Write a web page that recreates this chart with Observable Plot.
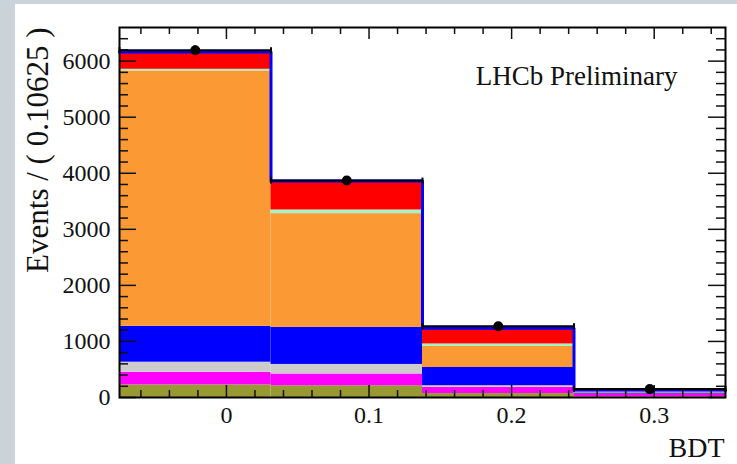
<!DOCTYPE html>
<html><head><meta charset="utf-8">
<script src="https://cdn.jsdelivr.net/npm/d3@7"></script>
<script src="https://cdn.jsdelivr.net/npm/@observablehq/plot@0.6"></script>
<style>
html,body{margin:0;padding:0;background:#c9d3d9;width:737px;height:464px;overflow:hidden;}
#panel{position:absolute;left:15px;top:4px;width:722px;height:460px;background:#fff;}
#chart{position:absolute;left:0;top:0;}
</style></head><body>
<div id="panel"></div><div id="chart"></div>
<script>
// ---- data ----
const binEdges = [-0.075, 0.03125, 0.1375, 0.24375, 0.35];
const components = ["comp A", "comp B", "comp C", "comp D", "comp E", "comp F", "comp G"];
const componentColors = ["#999933", "#ff00ff", "#cccccc", "#0000ff", "#fb9a35", "#a0f5c5", "#ff0000"];
const compA = [225, 210, 70, 10];    // olive
const compB = [225, 210, 110, 45];   // magenta
const compC = [180, 170, 30, 5];     // light grey
const compD = [640, 660, 325, 20];   // blue
const compE = [4555, 2030, 375, 25]; // orange
const compF = [30, 65, 45, 5];       // light green
const compG = [310, 515, 280, 25];   // red
const dataCounts = [6195, 3870, 1270, 150];
const xTickValues = [0, 0.1, 0.2, 0.3];
const xTickLabels = ["0", "0.1", "0.2", "0.3"];
const xMinorTicks = [-0.06, -0.04, -0.02, 0.02, 0.04, 0.06, 0.08, 0.12, 0.14, 0.16, 0.18, 0.22, 0.24, 0.26, 0.28, 0.32, 0.34];
const yTickValues = [0, 1000, 2000, 3000, 4000, 5000, 6000];
const yMinorTicks = [200, 400, 600, 800, 1200, 1400, 1600, 1800, 2200, 2400, 2600, 2800, 3200, 3400, 3600, 3800,
  4200, 4400, 4600, 4800, 5200, 5400, 5600, 5800, 6200, 6400];
const yLabel = "Events / ( 0.10625 )";
const xLabel = "BDT";
const lhcbLabel = "LHCb Preliminary";

// ---- tables built from the arrays ----
const seriesList = [compA, compB, compC, compD, compE, compF, compG];
const stackRows = [];
components.forEach((c, k) => seriesList[k].forEach((v, i) => stackRows.push({comp: c, x1: binEdges[i], x2: binEdges[i + 1], v})));
const totals = dataCounts.map((_, i) => seriesList.reduce((s, arr) => s + arr[i], 0));
const outline = totals.map((t, i) => ({x: binEdges[i], y: t})).concat([{x: binEdges[4], y: totals[3]}]);
const dataRows = dataCounts.map((n, i) => ({x1: binEdges[i], x2: binEdges[i + 1], xc: (binEdges[i] + binEdges[i + 1]) / 2, n, err: Math.sqrt(n)}));
const capRows = dataRows.flatMap(d => [{x: d.x1, y: d.n}, {x: d.x2, y: d.n}]);

const W = 737, H = 464, mL = 119, mR = 12, mT = 27, mB = 67;
const fw = W - mL - mR, fh = H - mT - mB;
const serif = "'Liberation Serif', 'Times New Roman', serif";
const vbar = {draw(ctx, size) { const h = Math.sqrt(size / Math.PI); ctx.moveTo(0, -h); ctx.lineTo(0, h); }};
const tickStyle = {stroke: "#111", strokeWidth: 1.5};

const chart = Plot.plot({
  width: W, height: H,
  marginLeft: mL, marginRight: mR, marginTop: mT, marginBottom: mB,
  x: {domain: [binEdges[0], binEdges[4]]},
  y: {domain: [0, 6600]},
  color: {type: "ordinal", domain: components, range: componentColors},
  style: {background: "transparent", fontFamily: serif, color: "#111"},
  marks: [
    Plot.rectY(stackRows, {x1: "x1", x2: "x2", y: "v", z: "comp", fill: "comp", order: components}),
    Plot.line(outline, {x: "x", y: "y", curve: "step-after", stroke: "#0000ff", strokeWidth: 3}),
    // inward ticks: bottom / top
    Plot.tickX(xTickValues, {x: d => d, insetTop: fh - 12, ...tickStyle}),
    Plot.tickX(xMinorTicks, {x: d => d, insetTop: fh - 7, ...tickStyle}),
    Plot.tickX(xTickValues, {x: d => d, insetBottom: fh - 12, ...tickStyle}),
    Plot.tickX(xMinorTicks, {x: d => d, insetBottom: fh - 7, ...tickStyle}),
    // inward ticks: left / right
    Plot.tickY(yTickValues, {y: d => d, insetRight: fw - 17, ...tickStyle}),
    Plot.tickY(yMinorTicks, {y: d => d, insetRight: fw - 9, ...tickStyle}),
    Plot.tickY(yTickValues, {y: d => d, insetLeft: fw - 17, ...tickStyle}),
    Plot.tickY(yMinorTicks, {y: d => d, insetLeft: fw - 9, ...tickStyle}),
    Plot.frame({stroke: "#000", strokeWidth: 2}),
    Plot.axisX({ticks: xTickValues, tickSize: 0, tickPadding: 8, fontSize: 24, label: null,
      tickFormat: d => xTickLabels[xTickValues.indexOf(d)]}),
    Plot.axisY({ticks: yTickValues, tickSize: 0, tickPadding: 9, fontSize: 24, label: null,
      tickFormat: d => String(d)}),
    // data points with bin-width x errors
    Plot.ruleY(dataRows, {y: "n", x1: "x1", x2: "x2", stroke: "#000", strokeWidth: 2}),
    Plot.ruleX(dataRows, {x: "xc", y1: d => d.n - d.err, y2: d => d.n + d.err, stroke: "#000", strokeWidth: 2}),
    Plot.dot(capRows, {x: "x", y: "y", symbol: vbar, r: 3, fill: "none", stroke: "#000", strokeWidth: 2}),
    Plot.dot(dataRows, {x: "xc", y: "n", r: 5, fill: "#000", stroke: null}),
    // texts
    Plot.text([lhcbLabel], {frameAnchor: "top-right", textAnchor: "end", lineAnchor: "middle",
      dx: -48, dy: 49, fontSize: 27, fill: "#111"}),
    Plot.text([xLabel], {frameAnchor: "bottom-right", textAnchor: "end", lineAnchor: "middle",
      dx: -1, dy: 51, fontSize: 28, fill: "#111"}),
    Plot.text([yLabel], {frameAnchor: "top-left", textAnchor: "end", lineAnchor: "middle", rotate: -90,
      dx: -81, dy: 0, fontSize: 31, fill: "#111"})
  ]
});
document.getElementById("chart").appendChild(chart);
</script>
</body></html>
